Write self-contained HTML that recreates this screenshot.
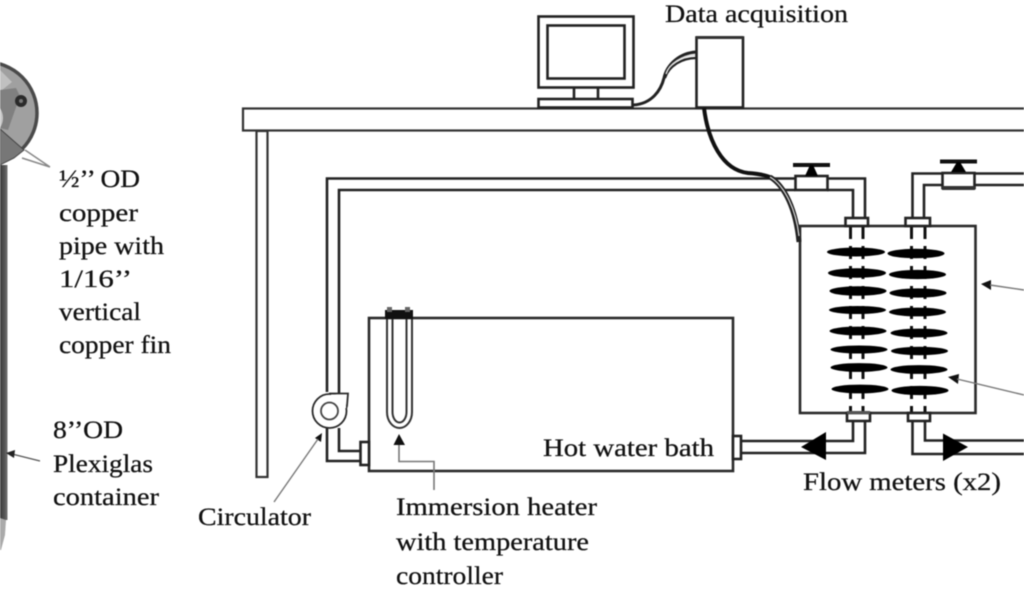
<!DOCTYPE html>
<html>
<head>
<meta charset="utf-8">
<style>
html,body{margin:0;padding:0;background:#fff;width:1024px;height:600px;overflow:hidden}
svg{display:block;filter:blur(0.5px)}
text{font-family:"Liberation Serif",serif;font-size:25px;fill:#111;stroke:#111;stroke-width:0.25}
.l{fill:none;stroke:#222;stroke-width:2.6}
.w{fill:#fff;stroke:#222;stroke-width:2.6}
.g{fill:none;stroke:#777;stroke-width:1.6}
</style>
</head>
<body>
<svg width="1024" height="600" viewBox="0 0 1024 600" xmlns="http://www.w3.org/2000/svg">
<defs>
<linearGradient id="col" x1="0" x2="1" y1="0" y2="0"><stop offset="0" stop-color="#3c3c3c"/><stop offset="0.6" stop-color="#555"/><stop offset="1" stop-color="#777"/></linearGradient>
</defs>

<!-- left object -->
<rect x="0" y="165" width="7.500" height="355" fill="url(#col)"/>
<path d="M0 518 L6 520 L5 535 L1 550 L0 550 Z" fill="#aaa"/>
<circle cx="-14" cy="113" r="51" fill="#a0a0a0" stroke="#4a4a4a" stroke-width="3.500"/>
<path d="M0 70 L12 82 L2 90 L0 90 Z" fill="#c0c0c0"/>
<path d="M0 90 L16 88 L20 96 L8 130 L0 128 Z" fill="#808080"/>
<path d="M0 108 Q6 118 0 128 Z" fill="#c8c8c8"/>
<path d="M0 129 L24 150 L14 158 L0 165 Z" fill="#777" stroke="#444"/>
<circle cx="21" cy="101" r="6" fill="#2a2a2a"/><circle cx="21" cy="101" r="2" fill="#777"/>
<path d="M50 167 L25 150 M50 167 L22 158" stroke="#888" stroke-width="1.500" fill="none"/>
<path d="M40 461 L12 454" stroke="#555" stroke-width="1.300" fill="none"/>
<path d="M6 453 L15 450 L14 458 Z" fill="#222"/>

<!-- table -->
<rect x="243" y="108.500" width="790" height="22" fill="#fff" stroke="#333" stroke-width="2.200"/>
<rect x="256.500" y="131" width="11" height="346" fill="#fff" stroke="#333" stroke-width="2.200"/>

<!-- monitor -->
<rect x="574" y="86" width="24" height="14" class="w"/>
<rect x="538.500" y="16.500" width="95" height="71" class="w"/>
<rect x="547.500" y="25.500" width="77" height="53" class="w"/>
<rect x="538.500" y="99" width="94" height="8.500" class="w"/>
<!-- computer cable -->
<path d="M633 105 C652 104 661 90 664 78 C667 64 680 53 696 52" fill="none" stroke="#222" stroke-width="3"/>
<path d="M665 78 C669 66 682 58 696 58" fill="none" stroke="#222" stroke-width="2.200"/>
<path d="M666 74 C669 64 682 55 696 55" fill="none" stroke="#ddd" stroke-width="1.400"/>
<!-- DAQ box -->
<rect x="696.500" y="37.500" width="46.500" height="70" class="w"/>
<path d="M696 37.500 H743" stroke="#333" stroke-width="3"/>

<!-- pipes upper left -->
<path class="l" d="M327 392 V178.500 H795"/>
<path class="l" d="M339 395 V190 H795"/>
<path class="l" d="M827 178.500 H865 V218"/>
<path class="l" d="M827 190 H853 V218"/>
<!-- pipes upper right -->
<path class="l" d="M912.500 218 V173.500 H942"/>
<path class="l" d="M924 218 V185 H942"/>
<path class="l" d="M975 173.500 H1024"/>
<path class="l" d="M975 185 H1024"/>

<!-- valves -->
<rect x="795.500" y="176" width="32" height="14" class="w" stroke-width="3"/>
<rect x="793" y="163" width="37" height="4" fill="#111"/>
<path d="M805 176 L810 165 H813 L818 176 Z" fill="#000"/>
<rect x="942.500" y="173" width="32" height="15" class="w" stroke-width="3"/>
<path d="M942 186 H975 V190 H942 Z" fill="#333"/>
<rect x="940" y="159.500" width="37" height="4" fill="#111"/>
<path d="M951 172 L957 162 H960 L966 172 Z" fill="#000"/>

<!-- tank -->
<rect x="800" y="226" width="175.500" height="187" fill="#fff" stroke="#2a2a2a" stroke-width="2.600"/>
<!-- dashed inner pipes -->
<g stroke="#111" stroke-width="3" stroke-dasharray="13 7" fill="none">
<path d="M850.500 226 V413"/>
<path d="M863 226 V413"/>
<path d="M911.500 226 V413"/>
<path d="M925 226 V413"/>
</g>
<!-- fins -->
<g fill="#000">
<ellipse cx="856" cy="252" rx="29" ry="4.500"/>
<ellipse cx="857" cy="273" rx="29" ry="4.800"/>
<ellipse cx="858" cy="291" rx="28.500" ry="4.800"/>
<ellipse cx="857.500" cy="310" rx="28.500" ry="4"/>
<ellipse cx="858" cy="331" rx="28.500" ry="4.400"/>
<ellipse cx="859" cy="349.500" rx="28.500" ry="4"/>
<ellipse cx="859" cy="367.500" rx="28.500" ry="4.400"/>
<ellipse cx="860" cy="389" rx="28.500" ry="4.400"/>
<ellipse cx="916" cy="253.500" rx="28.500" ry="4.800"/>
<ellipse cx="917.500" cy="274.500" rx="28.500" ry="4.600"/>
<ellipse cx="918" cy="293" rx="28.500" ry="4.600"/>
<ellipse cx="917.500" cy="312" rx="28.500" ry="4.400"/>
<ellipse cx="919" cy="333" rx="28.500" ry="4.400"/>
<ellipse cx="919.500" cy="351" rx="28.500" ry="4.200"/>
<ellipse cx="919" cy="369.500" rx="28.500" ry="4.400"/>
<ellipse cx="920" cy="390.500" rx="28.500" ry="4.600"/>
</g>
<!-- tank fittings -->
<rect x="845.500" y="218" width="22.500" height="8" class="w"/>
<rect x="905.500" y="218" width="24.500" height="8" class="w"/>
<rect x="847" y="413" width="23" height="8" class="w"/>
<rect x="847" y="411" width="23" height="3" fill="#555"/>
<rect x="908" y="413" width="22" height="8" class="w"/>

<!-- DAQ to tank cable -->
<path d="M704 108 C708 140 722 170 748 173 C762 174 768 176 772 178" fill="none" stroke="#111" stroke-width="4"/>
<path d="M770 177 C785 186 796 210 799 242" fill="none" stroke="#222" stroke-width="5"/>
<path d="M770 177 C785 186 796 210 799 236" fill="none" stroke="#ddd" stroke-width="1.200"/>

<!-- lower pipes -->
<path class="l" d="M853 421 V441 H741"/>
<path class="l" d="M865 421 V453 H741"/>
<path class="l" d="M912.500 421 V454 H1024"/>
<path class="l" d="M925 421 V440.500 H1024"/>
<path d="M801 447 L826 432 V460 Z" fill="#000"/>
<path d="M968 447 L943 433.500 V461 Z" fill="#000"/>

<!-- bath -->
<rect x="369" y="318" width="364" height="153" fill="#fff" stroke="#2a2a2a" stroke-width="2.600"/>
<rect x="733" y="436" width="8" height="23" class="w" stroke-width="2"/>
<rect x="360.500" y="442" width="8.500" height="23" class="w" stroke-width="2"/>

<!-- heater -->
<path d="M387 316 V412 A12.500 16 0 0 0 412 412 V316" fill="none" stroke="#333" stroke-width="2"/>
<path d="M392.500 316 V412 A7 10.500 0 0 0 406.500 412 V316" fill="none" stroke="#333" stroke-width="2"/>
<rect x="385" y="310" width="28" height="9" fill="#111"/>
<rect x="387" y="307" width="5" height="5" fill="#666"/><rect x="405" y="307" width="5" height="5" fill="#666"/>
<path d="M399 434 L393.500 445 H405 Z" fill="#111"/>
<path class="g" d="M399 445 V461.500 H434 V490"/>

<!-- pump and lower pipes left -->
<path class="l" d="M327 428 V461 H360"/>
<path class="l" d="M339 428 V451 H360"/>
<path d="M330 393.500 H348 L347 406 L344 415 L330 411 Z" fill="#fff" stroke="#2a2a2a" stroke-width="1.800"/>
<circle cx="329.500" cy="411" r="17" fill="#fff" stroke="#2a2a2a" stroke-width="1.800"/>
<path d="M331 394.500 H346 V408 L335 410 Z" fill="#fff"/>
<circle cx="329.500" cy="411" r="8.500" fill="#fff" stroke="#444" stroke-width="1.800"/>

<!-- annotation arrows -->
<path d="M322 433 L315 438 L321 442 Z" fill="#111"/>
<path d="M318 439 L274 502" stroke="#777" stroke-width="1.400" fill="none"/>
<path d="M981 284 L991 280 L991 290 Z" fill="#111"/>
<path d="M990 285 L1024 290" stroke="#777" stroke-width="1.400" fill="none"/>
<path d="M948 377 L959 374 L958 384 Z" fill="#111"/>
<path d="M957 379 L1024 395" stroke="#777" stroke-width="1.400" fill="none"/>

<!-- labels -->
<text x="665" y="22" textLength="183" lengthAdjust="spacingAndGlyphs">Data acquisition</text>
<text x="59" y="187" textLength="81" lengthAdjust="spacingAndGlyphs">½’’ OD</text>
<text x="59" y="221" textLength="79" lengthAdjust="spacingAndGlyphs">copper</text>
<text x="59" y="254" textLength="105" lengthAdjust="spacingAndGlyphs">pipe with</text>
<text x="59" y="287" textLength="73" lengthAdjust="spacingAndGlyphs">1/16’’</text>
<text x="59" y="320" textLength="82" lengthAdjust="spacingAndGlyphs">vertical</text>
<text x="59" y="353" textLength="112" lengthAdjust="spacingAndGlyphs">copper fin</text>
<text x="53" y="438" textLength="70" lengthAdjust="spacingAndGlyphs">8’’OD</text>
<text x="53" y="472" textLength="100" lengthAdjust="spacingAndGlyphs">Plexiglas</text>
<text x="53" y="505" textLength="106" lengthAdjust="spacingAndGlyphs">container</text>
<text x="198" y="525" textLength="113" lengthAdjust="spacingAndGlyphs">Circulator</text>
<text x="396" y="515" textLength="201" lengthAdjust="spacingAndGlyphs">Immersion heater</text>
<text x="396" y="550" textLength="193" lengthAdjust="spacingAndGlyphs">with temperature</text>
<text x="396" y="584" textLength="107" lengthAdjust="spacingAndGlyphs">controller</text>
<text x="543" y="456" textLength="171" lengthAdjust="spacingAndGlyphs">Hot water bath</text>
<text x="803" y="490" textLength="198" lengthAdjust="spacingAndGlyphs">Flow meters (x2)</text>
</svg>
</body>
</html>
